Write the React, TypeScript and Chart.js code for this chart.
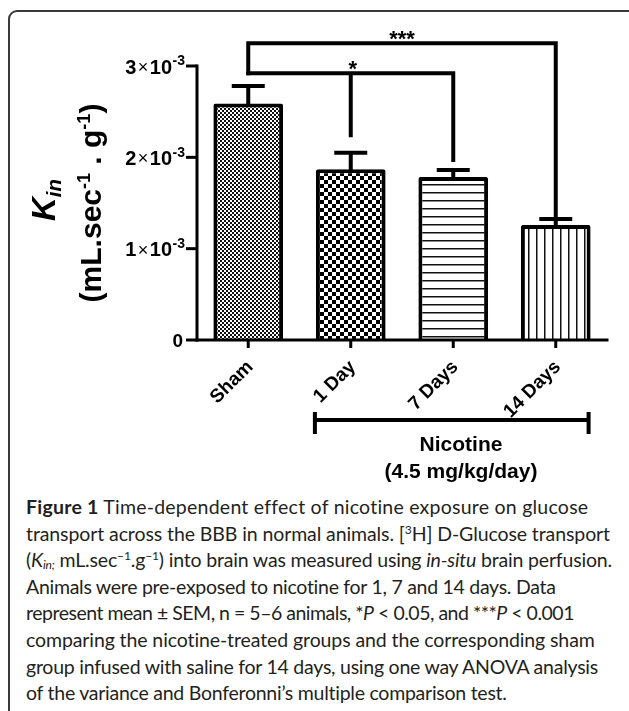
import React, { useEffect, useLayoutEffect, useRef } from 'react';
import { Chart, registerables } from 'chart.js';

Chart.register(...registerables);

// ---- data ----
const categories = ['Sham', '1 Day', '7 Days', '14 Days'];
const means = [2.59e-3, 1.87e-3, 1.785e-3, 1.26e-3];
const sems = [0.19e-3, 0.18e-3, 0.075e-3, 0.065e-3];
const patternKinds = ['fineCheck', 'coarseCheck', 'hLines', 'vLines'];
const yTickValues = [0, 1e-3, 2e-3, 3e-3];
const yTickMantissas = ['0', '1', '2', '3'];
const yTickExponent = '-3';

// significance brackets
const starLabel = '*';
const starLevel = 2.92e-3;
const starSpan = [0, 2]; // Sham -> 7 Days
const starLegCats = [1, 2];
const starLegEnds = [2.22e-3, 1.95e-3];
const tripleLabel = '***';
const tripleLevel = 3.25e-3;
const tripleSpan = [0, 3]; // Sham -> 14 Days
const tripleLegEnds = [starLevel, 1.335e-3];
const nicotineSpan = [1, 3];

const FONT = "'Liberation Sans', Arial, Helvetica, sans-serif";

function makePattern(kind: string): CanvasPattern | string {
  const c = document.createElement('canvas');
  const ctx = c.getContext('2d')!;
  if (kind === 'fineCheck') {
    c.width = 4; c.height = 4;
    ctx.fillStyle = '#fff'; ctx.fillRect(0, 0, 4, 4);
    ctx.fillStyle = '#111';
    ctx.fillRect(0, 0, 2, 2); ctx.fillRect(2, 2, 2, 2);
  } else if (kind === 'coarseCheck') {
    c.width = 8; c.height = 8;
    ctx.fillStyle = '#fff'; ctx.fillRect(0, 0, 8, 8);
    ctx.fillStyle = '#000';
    ctx.fillRect(0, 0, 4, 4); ctx.fillRect(4, 4, 4, 4);
  } else if (kind === 'hLines') {
    c.width = 8; c.height = 8;
    ctx.fillStyle = '#fff'; ctx.fillRect(0, 0, 8, 8);
    ctx.fillStyle = '#111'; ctx.fillRect(0, 0, 8, 1);
    ctx.fillStyle = '#888'; ctx.fillRect(0, 1, 8, 1);
  } else {
    c.width = 8; c.height = 8;
    ctx.fillStyle = '#fff'; ctx.fillRect(0, 0, 8, 8);
    ctx.fillStyle = '#111'; ctx.fillRect(0, 0, 1, 8);
    ctx.fillStyle = '#888'; ctx.fillRect(1, 0, 1, 8);
  }
  const p = ctx.createPattern(c, 'repeat');
  return p || '#888';
}

const axesPlugin = {
  id: 'customAxes',
  afterDatasetsDraw(chart: any) {
    const { ctx, chartArea } = chart;
    const ys = chart.scales.y;
    const xs = chart.scales.x;
    const meta = chart.getDatasetMeta(0);
    ctx.save();
    ctx.strokeStyle = '#000';
    ctx.fillStyle = '#000';
    ctx.lineWidth = 3;
    ctx.lineCap = 'square';
    const y0 = ys.getPixelForValue(0);
    const yTop = ys.getPixelForValue(yTickValues[yTickValues.length - 1]);
    // y axis line
    ctx.beginPath();
    ctx.moveTo(chartArea.left, y0);
    ctx.lineTo(chartArea.left, yTop);
    ctx.stroke();
    // x axis line
    ctx.beginPath();
    ctx.moveTo(chartArea.left, y0);
    ctx.lineTo(chartArea.right, y0);
    ctx.stroke();
    ctx.lineCap = 'butt';
    // y ticks
    yTickValues.forEach((v, i) => {
      const py = ys.getPixelForValue(v);
      ctx.beginPath();
      ctx.moveTo(chartArea.left - 11, py);
      ctx.lineTo(chartArea.left, py);
      ctx.stroke();
      // label
      const right = chartArea.left - 12;
      ctx.textBaseline = 'middle';
      ctx.textAlign = 'left';
      const cy = py + 2;
      if (v === 0) {
        ctx.font = `bold 19px ${FONT}`;
        const w = ctx.measureText(yTickMantissas[i]).width;
        ctx.fillText(yTickMantissas[i], right - w - 2, cy);
      } else {
        const parts = [
          { t: yTickMantissas[i], f: `bold 20px ${FONT}`, dy: 0, pad: 1.5 },
          { t: '\u00D7', f: `18px ${FONT}`, dy: 0, pad: 1.5 },
          { t: '10', f: `bold 20px ${FONT}`, dy: 0, pad: 0.5 },
          { t: yTickExponent, f: `bold 14px ${FONT}`, dy: -6.5, pad: 0 },
        ];
        let total = 0;
        const widths = parts.map((p) => {
          ctx.font = p.f;
          const w = ctx.measureText(p.t).width + p.pad;
          total += w;
          return w;
        });
        let x = right - total;
        parts.forEach((p, k) => {
          ctx.font = p.f;
          ctx.fillText(p.t, x, cy + p.dy);
          x += widths[k];
        });
      }
    });
    // x ticks and labels
    categories.forEach((c, i) => {
      const px = xs.getPixelForValue(i);
      ctx.beginPath();
      ctx.moveTo(px, y0);
      ctx.lineTo(px, y0 + 8);
      ctx.stroke();
      ctx.save();
      ctx.translate(px + 2, y0 + 24);
      ctx.rotate(-Math.PI / 4);
      ctx.font = `bold 19px ${FONT}`;
      ctx.textAlign = 'right';
      ctx.textBaseline = 'middle';
      ctx.fillText(c, 0, 0);
      ctx.restore();
    });

    // nicotine group bracket
    const b1 = meta.data[nicotineSpan[0]];
    const b2 = meta.data[nicotineSpan[1]];
    const left = b1.x - b1.width / 2 - 1;
    const rightX = b2.x + b2.width / 2 - 2;
    const by = y0 + 80;
    ctx.lineWidth = 4;
    ctx.beginPath();
    ctx.moveTo(left, by);
    ctx.lineTo(rightX, by);
    ctx.moveTo(left, by - 8);
    ctx.lineTo(left, by + 14);
    ctx.moveTo(rightX, by - 8);
    ctx.lineTo(rightX, by + 14);
    ctx.stroke();
    ctx.restore();
  },
};

const errorBarPlugin = {
  id: 'errorBars',
  afterDatasetsDraw(chart: any) {
    const { ctx } = chart;
    const ys = chart.scales.y;
    const meta = chart.getDatasetMeta(0);
    ctx.save();
    ctx.strokeStyle = '#000';
    ctx.lineWidth = 4;
    ctx.lineCap = 'butt';
    meta.data.forEach((bar: any, i: number) => {
      const yt = ys.getPixelForValue(means[i] + sems[i]);
      ctx.beginPath();
      ctx.moveTo(bar.x, bar.y + 2);
      ctx.lineTo(bar.x, yt);
      ctx.moveTo(bar.x - 16.5, yt);
      ctx.lineTo(bar.x + 16.5, yt);
      ctx.stroke();
    });
    ctx.restore();
  },
};

const bracketPlugin = {
  id: 'sigBrackets',
  afterDatasetsDraw(chart: any) {
    const { ctx } = chart;
    const ys = chart.scales.y;
    const xs = chart.scales.x;
    ctx.save();
    ctx.strokeStyle = '#000';
    ctx.fillStyle = '#000';
    ctx.lineWidth = 4;
    ctx.lineJoin = 'miter';
    ctx.lineCap = 'butt';
    // * bracket
    const sy = ys.getPixelForValue(starLevel);
    const sx0 = xs.getPixelForValue(starSpan[0]);
    const sx1 = xs.getPixelForValue(starSpan[1]);
    ctx.beginPath();
    ctx.moveTo(sx0 - 2, sy);
    ctx.lineTo(sx1, sy);
    ctx.lineTo(sx1, ys.getPixelForValue(starLegEnds[1]));
    ctx.stroke();
    const mx = xs.getPixelForValue(starLegCats[0]);
    ctx.beginPath();
    ctx.moveTo(mx, sy);
    ctx.lineTo(mx, ys.getPixelForValue(starLegEnds[0]));
    ctx.stroke();
    // *** bracket
    const ty = ys.getPixelForValue(tripleLevel);
    const tx0 = xs.getPixelForValue(tripleSpan[0]);
    const tx1 = xs.getPixelForValue(tripleSpan[1]);
    ctx.beginPath();
    ctx.moveTo(tx0, ys.getPixelForValue(tripleLegEnds[0]) + 2);
    ctx.lineTo(tx0, ty);
    ctx.lineTo(tx1, ty);
    ctx.lineTo(tx1, ys.getPixelForValue(tripleLegEnds[1]));
    ctx.stroke();
    // labels
    ctx.font = `bold 22px ${FONT}`;
    ctx.textAlign = 'center';
    ctx.textBaseline = 'alphabetic';
    ctx.fillText(starLabel, mx + 2, sy + 3);
    ctx.fillText(tripleLabel, (tx0 + tx1) / 2, ty + 3);
    ctx.restore();
  },
};

function ChartCanvas() {
  const ref = useRef<HTMLCanvasElement>(null);
  useEffect(() => {
    if (!ref.current) return;
    const patterns = patternKinds.map((k) => makePattern(k));
    const chart = new Chart(ref.current, {
      type: 'bar',
      data: {
        labels: categories,
        datasets: [
          {
            data: means,
            backgroundColor: patterns as any,
            borderColor: '#000',
            borderWidth: 4,
            borderSkipped: 'start',
            borderRadius: { topLeft: 2, topRight: 2, bottomLeft: 0, bottomRight: 0 },
            barPercentage: 0.68,
            categoryPercentage: 1,
          },
        ],
      },
      options: {
        responsive: false,
        animation: false,
        devicePixelRatio: 1,
        layout: { padding: { left: 197, right: 22, top: 66, bottom: 100 } },
        scales: {
          x: { display: false },
          y: { display: false, min: 0, max: 3e-3 },
        },
        plugins: {
          legend: { display: false },
          tooltip: { enabled: false },
        },
      } as any,
      plugins: [axesPlugin, errorBarPlugin, bracketPlugin],
    });
    return () => chart.destroy();
  }, []);
  return (
    <canvas
      ref={ref}
      width={629}
      height={440}
      style={{ position: 'absolute', left: 0, top: 0, width: 629, height: 440 }}
    />
  );
}

const capSup: React.CSSProperties = { fontSize: '0.62em', verticalAlign: '0.55em', lineHeight: 0 };
const capSub: React.CSSProperties = { fontSize: '0.62em', verticalAlign: '-0.2em', lineHeight: 0 };

const captionLines: React.ReactNode[] = [
  <><b style={{ color: '#231f20' }}>Figure 1</b> Time-dependent effect of nicotine exposure on glucose</>,
  <>transport across the BBB in normal animals. [<span style={capSup}>3</span>H] D-Glucose transport</>,
  <>(<i>K</i><span style={capSub}><i>in;</i></span> mL.sec<span style={capSup}>{'\u22121'}</span>.g<span style={capSup}>{'\u22121'}</span>) into brain was measured using <i>in-situ</i> brain perfusion.</>,
  <>Animals were pre-exposed to nicotine for 1, 7 and 14 days. Data</>,
  <>represent mean {'\u00B1'} SEM, n = 5{'\u2013'}6 animals, *<i>P</i> {'<'} 0.05, and ***<i>P</i> {'<'} 0.001</>,
  <>comparing the nicotine-treated groups and the corresponding sham</>,
  <>group infused with saline for 14 days, using one way ANOVA analysis</>,
  <>of the variance and Bonferonni{'\u2019'}s multiple comparison test.</>,
];
// right edge (page px) of each caption line in the reference layout
const captionRightEdges = [588, 610, 612, 556, 574, 595, 598, 507];
const CAPTION_LEFT = 26;

function Caption() {
  const refs = useRef<(HTMLSpanElement | null)[]>([]);
  useLayoutEffect(() => {
    const fit = () => {
      refs.current.forEach((el, i) => {
        if (!el) return;
        el.style.letterSpacing = '0px';
        const w = el.getBoundingClientRect().width;
        const n = (el.textContent || '').length;
        const target = captionRightEdges[i] - CAPTION_LEFT;
        let ls = (target - w) / Math.max(1, n);
        ls = Math.max(-0.8, Math.min(0.8, ls));
        el.style.letterSpacing = `${ls.toFixed(3)}px`;
      });
    };
    fit();
    if ((document as any).fonts && (document as any).fonts.ready) {
      (document as any).fonts.ready.then(fit);
    }
  }, []);
  return (
    <div
      style={{
        position: 'absolute',
        left: CAPTION_LEFT,
        top: 494,
        fontFamily: "Lato, 'Open Sans', sans-serif",
        fontSize: 19.5,
        lineHeight: '26.6px',
        color: '#231f20',
      }}
    >
      {captionLines.map((l, i) => (
        <div key={i} style={{ whiteSpace: 'nowrap' }}>
          <span ref={(el) => { refs.current[i] = el; }}>{l}</span>
        </div>
      ))}
    </div>
  );
}

export default function App() {
  const supStyle: React.CSSProperties = { fontSize: '0.6em', verticalAlign: 'super', lineHeight: 0 };
  const groupLabel: React.CSSProperties = {
    position: 'absolute',
    left: 461,
    transform: 'translate(-50%, -50%)',
    whiteSpace: 'nowrap',
    fontFamily: FONT,
    fontWeight: 'bold',
    fontSize: 21,
    lineHeight: 1,
    color: '#000',
  };
  return (
    <div
      style={{
        position: 'fixed',
        left: 0,
        top: 0,
        width: 629,
        height: 711,
        overflow: 'hidden',
        background: '#fff',
      }}
    >
      <div
        style={{
          position: 'absolute',
          left: 8,
          top: 10,
          width: 700,
          height: 800,
          border: '2px solid #3a3a3a',
          borderRadius: 9,
          boxSizing: 'border-box',
        }}
      />
      <ChartCanvas />
      {/* y-axis title */}
      <div
        style={{
          position: 'absolute',
          left: 43,
          top: 200,
          transform: 'translate(-50%, -50%) rotate(-90deg)',
          whiteSpace: 'nowrap',
          fontFamily: FONT,
          fontWeight: 'bold',
          fontSize: 33,
          lineHeight: 1,
          color: '#000',
        }}
      >
        <i>K</i>
        <i style={{ fontSize: '0.62em', verticalAlign: '-0.3em', lineHeight: 0 }}>in</i>
      </div>
      <div
        style={{
          position: 'absolute',
          left: 91,
          top: 203,
          transform: 'translate(-50%, -50%) rotate(-90deg)',
          whiteSpace: 'nowrap',
          fontFamily: FONT,
          fontWeight: 'bold',
          fontSize: 30,
          lineHeight: 1,
          color: '#000',
        }}
      >
        (mL.sec<span style={supStyle}>-1</span> . g<span style={supStyle}>-1</span>)
      </div>
      {/* group label */}
      <div style={{ ...groupLabel, top: 443 }}>Nicotine</div>
      <div style={{ ...groupLabel, top: 470 }}>(4.5 mg/kg/day)</div>
      <Caption />
    </div>
  );
}
